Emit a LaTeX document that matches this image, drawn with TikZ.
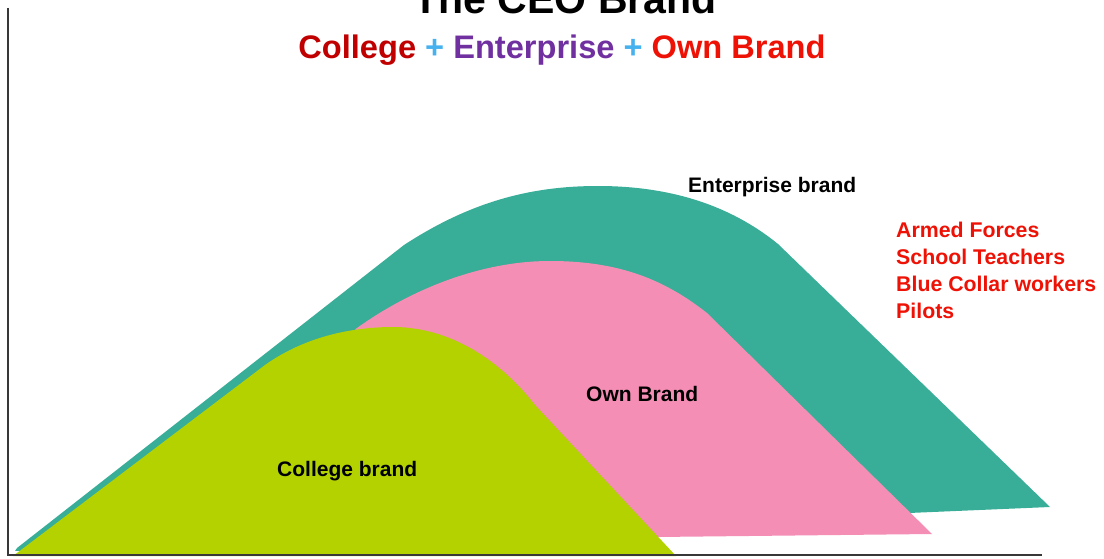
\documentclass[tikz,border=0pt]{standalone}
\usepackage{fontspec}
\setmainfont{Liberation Sans}
\usetikzlibrary{positioning}
\definecolor{entgreen}{HTML}{38AD97}
\definecolor{ownpink}{HTML}{F58EB5}
\definecolor{collime}{HTML}{B3D200}
\definecolor{coldark}{HTML}{C00000}
\definecolor{plusblue}{HTML}{45B1EE}
\definecolor{entpurple}{HTML}{7030A0}
\definecolor{ownred}{HTML}{EE1105}
\definecolor{axisgray}{HTML}{383838}
\tikzset{
  brandlabel/.style={font=\fontsize{21}{24}\selectfont\bfseries, text=black, inner sep=0pt},
  grouplabel/.style={font=\fontsize{21.3}{24}\selectfont\bfseries, text=ownred, inner sep=0pt, anchor=base west}
}

\begin{document}
\begin{tikzpicture}[x=1pt, y=-1pt]
    \useasboundingbox (0,0) rectangle (1104,559);
    \clip (0,0) rectangle (1104,559);

    % Title lines
    \node[font=\fontsize{41}{46}\selectfont\bfseries, inner sep=0pt, anchor=base] (title) at (565,14) {The CEO Brand};
    \node[font=\fontsize{32.6}{36}\selectfont\bfseries, inner sep=0pt, anchor=base] (subtitle) at (562,59)
        {\textcolor{coldark}{College} \textcolor{plusblue}{+} \textcolor{entpurple}{Enterprise} \textcolor{plusblue}{+} \textcolor{ownred}{Own Brand}};

    % Enterprise brand (back)
    \fill[entgreen] (17,548) -- (404,245) .. controls (470,202) and (530,186) .. (598,186)
        .. controls (670,186) and (730,205) .. (778,244) -- (1050,507) -- (15,551) -- cycle;

    % Own brand (middle)
    \fill[ownpink] (120,540) -- (357,328) .. controls (410,290) and (480,261) .. (550,261)
        .. controls (620,261) and (665,280) .. (707,313) -- (932,534) -- (657,537) -- cycle;

    % College brand (front)
    \fill[collime] (13,556) -- (265,365) .. controls (300,340) and (345,327) .. (393,327)
        .. controls (450,327) and (500,360) .. (535,405) -- (676,556) -- cycle;

    % Labels on the curves
    \node[brandlabel, anchor=base west] (entlabel) at (688,193) {Enterprise brand};
    \node[brandlabel, anchor=base west] (ownlabel) at (586,401) {Own Brand};
    \node[brandlabel, anchor=base west] (collabel) at (277,476) {College brand};

    % Groups list
    \foreach \grp [count=\i] in {Armed Forces, School Teachers, Blue Collar workers, Pilots}
        \node[grouplabel] (group\i) at (896,{237+27*(\i-1)}) {\grp};

    % Axes
    \draw[axisgray, line width=2pt] (8,8) -- (8,555) -- (1042,555);
\end{tikzpicture}
\end{document}
